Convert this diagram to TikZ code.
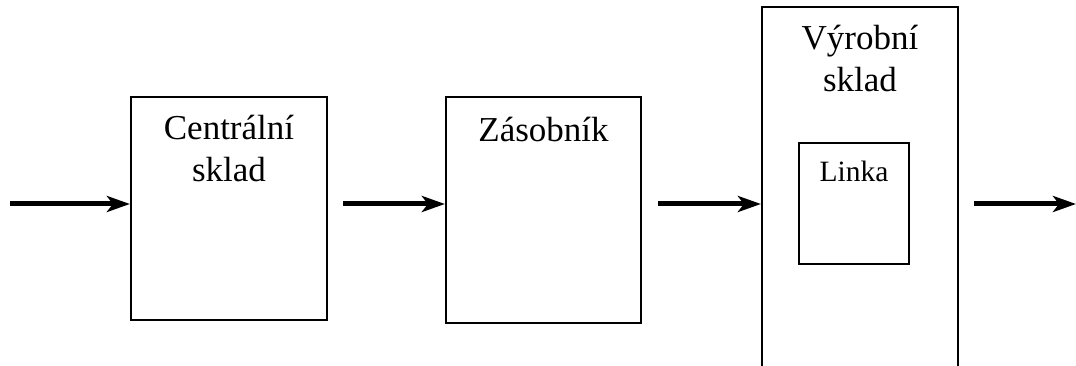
\documentclass[tikz,border=0pt]{standalone}
\usepackage{fontspec}
\setmainfont{Liberation Serif}
\usetikzlibrary{positioning,arrows.meta}

\begin{document}
\begin{tikzpicture}[x=1pt, y=-1pt, >={Stealth[length=23pt, width=16pt, inset=6pt]}, box/.style = {rectangle, draw, line width=2.2pt, inner sep=0pt}, title/.style = {anchor=north, align=center, inner sep=0pt, font=\fontsize{35}{42}\selectfont}, flow/.style = {->, line width=5pt}]

\clip (0,0) rectangle (1076,366);

\node[box, minimum width=196pt, minimum height=223pt] (c) at (229,208.5) {};
\node[box, minimum width=195pt, minimum height=226pt] (z) at (543.5,210) {};
\node[box, minimum width=196pt, minimum height=393pt] (v) at (860,203.5) {};
\node[box, minimum width=110pt, minimum height=121pt] (l) at (854,203.5) {};

\node[title, below=19pt of c.north] (ct) {Centrální\\sklad};
\node[title, below=21pt of z.north] (zt) {Zásobník};
\node[title, below=19pt of v.north] (vt) {Výrobní\\sklad};
\node[title, below=19pt of l.north, font=\fontsize{29.5}{35}\selectfont] (lt) {Linka};

\coordinate (in) at (10,204);
\coordinate (out) at (1076,204);

\draw[flow] (in) -- (in -| c.west);
\draw[flow, shorten <=15pt] (in -| c.east) -- (in -| z.west);
\draw[flow, shorten <=16pt] (in -| z.east) -- (in -| v.west);
\draw[flow, shorten <=15pt] (in -| v.east) -- (out);
\end{tikzpicture}
\end{document}
